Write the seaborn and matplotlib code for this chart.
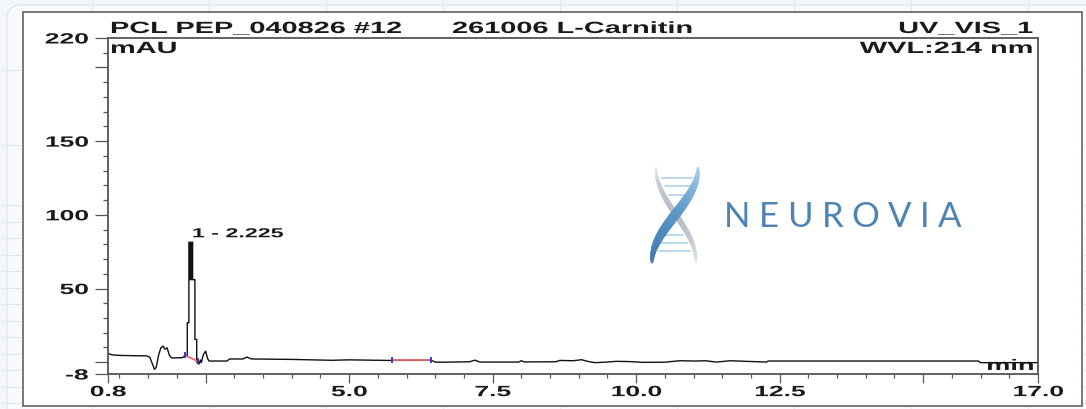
import matplotlib
matplotlib.use("Agg")
import matplotlib.pyplot as plt
import matplotlib.patheffects as pe
from matplotlib.transforms import Affine2D
from matplotlib.ticker import FixedLocator, MultipleLocator
from matplotlib.collections import LineCollection
from matplotlib.colors import LinearSegmentedColormap
from matplotlib.patches import Rectangle, FancyBboxPatch
import numpy as np
import pandas as pd
import seaborn as sns

# chromatogram trace: time (min) and signal (mAU)
time_min = [0.80, 0.87, 1.01, 1.27, 1.48, 1.53, 1.57, 1.61, 1.64, 1.68,
            1.72, 1.76, 1.79, 1.83, 1.87, 1.91, 2.10, 2.14, 2.181, 2.181,
            2.209, 2.209, 2.23, 2.23, 2.25, 2.25, 2.274, 2.274, 2.314, 2.314,
            2.345, 2.345, 2.36, 2.385, 2.41, 2.425, 2.46, 2.50, 2.535, 2.56,
            2.87, 2.92, 3.15, 3.22, 3.30, 4.00, 4.70, 5.00, 5.70, 6.43,
            6.50, 6.63, 7.10, 7.19, 7.28, 7.95, 8.00, 8.05, 8.60, 8.67,
            8.90, 9.05, 9.15, 9.28, 9.45, 9.66, 9.90, 10.12, 10.50, 10.76,
            11.05, 11.20, 11.40, 11.64, 11.98, 12.27, 12.30, 15.96, 16.00, 17.00]
signal_mau = [6.0, 5.0, 4.6, 4.4, 4.3, 3.3, -0.8, -4.9, -3.5, 4.6,
              9.7, 11.0, 8.9, 9.7, 4.6, 2.9, 3.1, 4.6, 4.6, 26.8,
              26.8, 81.4, 81.4, 56.0, 56.0, 81.4, 81.4, 56.0, 56.0, 15.5,
              15.5, 0.3, -0.8, -1.2, 1.5, -0.3, 5.0, 7.5, 2.5, 0.8,
              0.8, 2.2, 2.2, 3.5, 2.2, 1.9, 1.3, 1.6, 1.2, 1.3,
              0.1, 0.0, 0.3, 1.4, 0.1, 0.1, 1.0, 0.2, 0.3, 1.2,
              1.0, 1.7, 0.6, -0.3, 0.0, 0.6, 0.4, -0.1, 0.0, 1.0,
              0.8, 1.0, 0.1, 1.0, 0.5, 0.1, 0.8, 0.8, -0.3, -0.3]

peak_rt = [2.225]
peak_top = [81.4]
peak_names = ["1 - 2.225"]

# integration baselines: start/end time and level
base_t0 = [2.14, 5.74]
base_v0 = [4.6, 1.2]
base_t1 = [2.37, 6.43]
base_v1 = [0.6, 1.2]

x_ticks = [0.8, 2.5, 5.0, 7.5, 10.0, 12.5, 15.0, 17.0]
x_labels = ["0.8", "", "5.0", "7.5", "10.0", "12.5", "", "17.0"]
y_ticks = [-8, 0, 50, 100, 150, 200, 220]
y_labels = ["-8", "", "50", "100", "150", "", "220"]

W, H = 1086, 409
SX = 1.78  # the source picture is stretched sideways


class Stretch(pe.AbstractPathEffect):
    """widen glyphs horizontally around one side of the text"""
    def __init__(self, sx, anchor="left"):
        super().__init__()
        self.sx = sx
        self.anchor = anchor

    def draw_path(self, renderer, gc, tpath, affine, rgbFace=None):
        if len(tpath.vertices) == 0:
            return
        xs = affine.transform(tpath.vertices)[:, 0]
        if self.anchor == "left":
            a = affine.get_matrix()[0, 2]
        elif self.anchor == "right":
            a = xs.max()
        else:
            a = 0.5 * (xs.min() + xs.max())
        st = Affine2D().translate(-a, 0).scale(self.sx, 1).translate(a, 0)
        renderer.draw_path(gc, tpath, affine + st, rgbFace)


sns.set_style("ticks")
plt.rcParams["font.family"] = ["Liberation Sans", "DejaVu Sans"]
ink = "#1a1a1a"
axcol = "#555555"

fig = plt.figure(figsize=(W / 100, H / 100), dpi=100)
fig.patch.set_facecolor("#f3f6fa")

# page background with faint sheet grid and the white report frame
bg = fig.add_axes([0, 0, 1, 1], zorder=0)
bg.set_xlim(0, W)
bg.set_ylim(H, 0)
bg.axis("off")
bg.add_patch(FancyBboxPatch((7, 5), 1300, 600, boxstyle="round,pad=0,rounding_size=14",
                            facecolor="#f8fafd", edgecolor="#e2e7ee", lw=1, zorder=1))
for gx in range(92, W, 117):
    bg.axvline(gx, color="#e3e8ef", lw=0.8, zorder=2)
for gy in [70, 145, 205, 222, 238, 255, 271, 288, 304, 321, 337, 354, 370, 387, 403]:
    bg.axhline(gy, color="#e3e8ef", lw=0.8, zorder=2)
bg.add_patch(Rectangle((23, 12), 1059, 394, facecolor="white", edgecolor=axcol,
                       lw=1.1, zorder=5))

ax = fig.add_axes([108 / W, 1 - 374 / H, 930 / W, 336 / H], zorder=2)
ax.set_facecolor("none")

df = pd.DataFrame({"time": time_min, "mAU": signal_mau})
sns.lineplot(data=df, x="time", y="mAU", ax=ax, color="#111111", lw=1.0,
             estimator=None, sort=False)

# integration baselines and delimiters
for t0, v0, t1, v1 in zip(base_t0, base_v0, base_t1, base_v1):
    ax.plot([t0, t1], [v0, v1], color="#e86a6a", lw=1.3, zorder=3)
    ax.plot([t0, t1], [v0, v1], ls="none", marker="|", ms=5, mew=1.3,
            color="#2b2bd6", zorder=4)

for rt, top, name in zip(peak_rt, peak_top, peak_names):
    ax.annotate(name, xy=(rt, top), xytext=(1.5, 3.6), textcoords="offset points",
                ha="left", va="baseline", fontsize=9.4, fontweight="bold", color=ink,
                path_effects=[Stretch(SX, "left")])

ax.set_xlim(0.8, 17.0)
ax.set_ylim(-8, 220)
ax.set_xlabel("")
ax.set_ylabel("")
ax.xaxis.set_major_locator(FixedLocator(x_ticks))
ax.set_xticklabels(x_labels)
ax.xaxis.set_minor_locator(MultipleLocator(0.5))
ax.yaxis.set_major_locator(FixedLocator(y_ticks))
ax.set_yticklabels(y_labels)
ax.yaxis.set_minor_locator(MultipleLocator(10))

for s in ax.spines.values():
    s.set_color(axcol)
    s.set_linewidth(1.3)
ax.tick_params(axis="y", which="major", direction="out", length=9.6, width=0.9,
               color=axcol, pad=4.5, labelsize=10.7, labelcolor=ink)
ax.tick_params(axis="y", which="minor", direction="out", length=3.4, width=0.9, color=axcol)
ax.tick_params(axis="x", which="major", direction="out", length=6.5, width=0.9,
               color=axcol, pad=1.5, labelsize=10.7, labelcolor=ink)
ax.tick_params(axis="x", which="minor", direction="out", length=2.8, width=0.9, color=axcol)
for lab in ax.get_yticklabels():
    lab.set_fontweight("bold")
    lab.set_path_effects([Stretch(SX, "right")])
for lab in ax.get_xticklabels():
    lab.set_fontweight("bold")
    lab.set_path_effects([Stretch(SX, "center")])

# header texts
hdr = dict(fontsize=11.7, fontweight="bold", color=ink, va="baseline")
fig.text(110 / W, 1 - 33 / H, "PCL PEP_040826 #12", ha="left",
         path_effects=[Stretch(SX, "left")], **hdr)
fig.text(452 / W, 1 - 33 / H, "261006 L-Carnitin", ha="left",
         path_effects=[Stretch(SX, "left")], **hdr)
fig.text(1033 / W, 1 - 33 / H, "UV_VIS_1", ha="right",
         path_effects=[Stretch(SX, "right")], **hdr)
fig.text(110 / W, 1 - 53 / H, "mAU", ha="left",
         path_effects=[Stretch(SX, "left")], **hdr)
fig.text(1033 / W, 1 - 53 / H, "WVL:214 nm", ha="right",
         path_effects=[Stretch(SX, "right")], **hdr)
fig.text(1034 / W, 1 - 370 / H, "min", ha="right", fontsize=11, fontweight="bold",
         color=ink, va="baseline", path_effects=[Stretch(SX, "right")])

# watermark logo
lg = fig.add_axes([0, 0, 1, 1], zorder=3)
lg.set_xlim(0, W)
lg.set_ylim(H, 0)
lg.axis("off")
lg.patch.set_alpha(0)

yy = np.linspace(168, 262, 80)
ph = np.pi * (yy - 168) / 94
xs_silver = 676 - 20 * np.cos(ph)
xs_blue = 675 + 23 * np.cos(ph)
env = np.sin(ph) ** 0.8

silver = LinearSegmentedColormap.from_list("silver", ["#e6e8ec", "#b9bec8"])
steel = LinearSegmentedColormap.from_list("steel", ["#a9d2ee", "#5d98c8", "#3f78ad"])

pts = np.column_stack([xs_silver, yy]).reshape(-1, 1, 2)
seg = np.concatenate([pts[:-1], pts[1:]], axis=1)
lg.add_collection(LineCollection(seg, linewidths=1.2 + 2.8 * env[:-1],
                                 colors=silver(env[:-1]), capstyle="round"))
for ry in [178, 186, 195, 235, 243, 251]:
    p = np.pi * (ry - 168) / 94
    xa = 676 - 20 * np.cos(p)
    xb = 675 + 23 * np.cos(p)
    lo, hi = sorted([xa, xb])
    lg.plot([lo + 5, hi - 5], [ry, ry], color="#b3d5ee", lw=1.3)
pts = np.column_stack([xs_blue, yy]).reshape(-1, 1, 2)
seg = np.concatenate([pts[:-1], pts[1:]], axis=1)
lg.add_collection(LineCollection(seg, linewidths=1.5 + 5.5 * env[:-1],
                                 colors=steel((yy[:-1] - 168) / 94),
                                 capstyle="round"))

renderer = fig.canvas.get_renderer()
lx = 724
for ch in "NEUROVIA":
    t = lg.text(lx, 227, ch, fontsize=25, color="#4d84b4", family="Lato",
                fontweight="normal", ha="left", va="baseline")
    lx += t.get_window_extent(renderer).width + 8.5

fig.savefig("out.png", dpi=100, facecolor=fig.get_facecolor())
